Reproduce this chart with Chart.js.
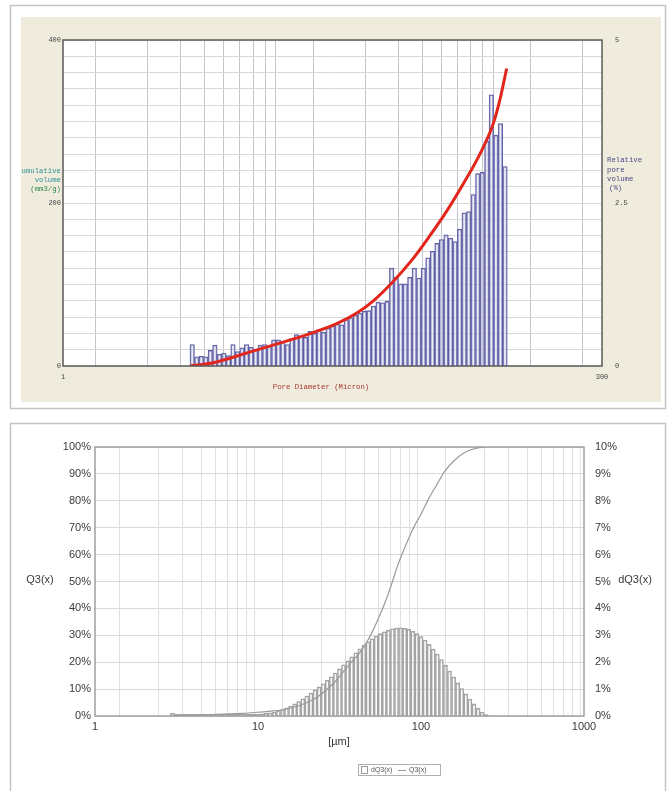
<!DOCTYPE html>
<html><head><meta charset="utf-8">
<script src="https://cdn.jsdelivr.net/npm/chart.js@4.4.1/dist/chart.umd.min.js"></script>
<style>
html,body{margin:0;padding:0;background:#fff;width:671px;height:791px;overflow:hidden}
#c1{position:absolute;left:0;top:0}
#c2{position:absolute;left:0;top:411px}
</style></head><body>
<canvas id="c1" width="671" height="411"></canvas>
<canvas id="c2" width="671" height="380"></canvas>
<script>
// ---------- TOP CHART DATA (mercury intrusion) ----------
const topDiameters = [3.925,4.118,4.320,4.532,4.754,4.988,5.233,5.489,5.759,6.042,6.339,6.650,6.977,7.319,7.679,8.056,8.452,8.867,9.302,9.763,10.24,10.75,11.27,11.83,12.41,13.02,13.66,14.33,15.03,15.77,16.55,17.36,18.21,19.11,20.05,21.03,22.07,23.15,24.29,25.48,26.73,28.05,29.43,30.87,32.39,33.98,35.65,37.40,39.24,41.17,43.19,45.32,47.54,49.88,52.33,54.90,57.59,60.42,63.39,66.50,69.77,73.19,76.79,80.56,84.52,88.67,93.02,97.63,102.4,107.5];
const relPoreVolume = [0.33,0.14,0.15,0.14,0.24,0.32,0.18,0.20,0.16,0.33,
  0.22,0.28,0.33,0.29,0.26,0.32,0.33,0.30,0.40,0.40,
  0.38,0.33,0.42,0.48,0.45,0.44,0.53,0.50,0.56,0.52,
  0.58,0.61,0.64,0.63,0.71,0.74,0.78,0.81,0.84,0.85,
  0.92,0.98,0.97,0.99,1.50,1.36,1.26,1.26,1.36,1.50,
  1.35,1.50,1.66,1.76,1.88,1.94,2.01,1.96,1.91,2.10,
  2.35,2.37,2.63,2.95,2.97,3.45,4.16,3.54,3.72,3.06];
const cumDiameters = [3.83,4.9,7.0,9.9,14.1,18.1,22.4,26.7,33.0,40.7,48.0,58.0,70.0,82.4,95.1,102.1,109.4];
const cumVolume = [0,4,16,28,41,52,65,80,104,132,158,190,226,260,298,328,365];
const topXTicks = [1,2,3,4,5,6,7,8,9,10,20,30,40,50,60,70,80,90,100,200,300];
const topXLabels = [1,300];
const topYLabels = [0,200,400];
const topY2Labels = [0,2.5,5];

// ---------- BOTTOM CHART DATA (particle size distribution) ----------
const psdSizes = [2.985,3.162,3.350,3.548,3.758,3.981,4.217,4.467,4.732,5.012,5.309,5.623,5.957,6.310,6.683,7.079,7.499,7.943,8.414,8.913,9.441,10.00,10.59,11.22,11.89,12.59,13.34,14.13,14.96,15.85,16.79,17.78,18.84,19.95,21.13,22.39,23.71,25.12,26.61,28.18,29.85,31.62,33.50,35.48,37.58,39.81,42.17,44.67,47.32,50.12,53.09,56.23,59.57,63.10,66.83,70.79,74.99,79.43,84.14,89.13,94.41,100.0,105.9,112.2,118.9,125.9,133.4,141.3,149.6,158.5,167.9,177.8,188.4,199.5,211.3,223.9,237.1,251.2];
const dQ3 = [0.10,0.06,0.06,0.06,0.06,0.06,0.06,0.06,0.06,0.06,0.06,0.06,0.06,0.06,0.06,0.06,0.06,0.06,0.06,0.06,0.07,0.07,
  0.08,0.10,0.12,0.15,0.19,0.24,0.30,0.37,0.45,0.54,
  0.64,0.74,0.85,0.97,1.08,1.20,1.33,1.46,1.60,1.75,
  1.90,2.05,2.20,2.35,2.50,2.63,2.76,2.87,2.97,3.06,
  3.13,3.19,3.24,3.27,3.28,3.26,3.22,3.15,3.06,2.95,
  2.82,2.66,2.49,2.30,2.10,1.89,1.67,1.45,1.23,1.02,
  0.82,0.63,0.45,0.29,0.15,0.05];
const q3Sizes = [3,5,8,10,12,15,18,20,23,26,30,34,38,42,46,50,55,60,66,72,80,90,100,112,125,140,160,190,220,250];
const q3Values = [0.1,0.5,1.0,1.4,1.8,2.6,3.9,5,7,9.5,13,17,20.5,23.5,27,31,36.5,42,49,56,63,70,75,81,86,91,95,98.3,99.6,100];
const botXTicks = [1,2,3,4,5,6,7,8,9,10,20,30,40,50,60,70,80,90,100,200,300,400,500,600,700,800,900,1000];
const botXLabels = [1,10,100,1000];

// ---------- TOP CHART ----------
const topFrame = {
  id:'topFrame',
  beforeDraw(chart){
    const c = chart.ctx, a = chart.chartArea;
    c.save();
    c.fillStyle='#fff'; c.fillRect(0,0,chart.width,chart.height);
    c.strokeStyle='#c4c4c4'; c.lineWidth=1.5; c.strokeRect(10.5,5.5,655,403);
    c.fillStyle='#efebdd'; c.fillRect(21,17,640,385);
    c.fillStyle='#fff'; c.fillRect(a.left,a.top,a.right-a.left,a.bottom-a.top);
    c.restore();
  },
  afterDraw(chart){
    const c = chart.ctx, a = chart.chartArea;
    c.save();
    c.strokeStyle='#5a5a5a'; c.lineWidth=1.5;
    c.strokeRect(a.left,a.top,a.right-a.left,a.bottom-a.top);
    c.font='7.3px "Liberation Mono"';
    c.textBaseline='middle';
    c.save(); c.beginPath(); c.rect(22,0,700,411); c.clip();
    c.textAlign='right';
    c.fillStyle='#2f9191'; c.fillText('Cumulative',61,171); c.fillText('volume',61,180);
    c.fillStyle='#2e8a4e'; c.fillText('(mm3/g)',61,189);
    c.restore();
    c.textAlign='left'; c.fillStyle='#4a4a82';
    c.fillText('Relative',607,160); c.fillText('pore',607,170); c.fillText('volume',607,179); c.fillText('(%)',609,188);
    c.textAlign='center'; c.fillStyle='#a8392f';
    c.fillText('Pore Diameter (Micron)',321,387);
    c.restore();
  }
};

const monoTick = {family:'Liberation Mono', size:7};
new Chart(document.getElementById('c1'), {
  type:'bar',
  data:{datasets:[
    {type:'line', label:'Cumulative volume', data:cumDiameters.map((d,i)=>({x:d,y:cumVolume[i]})), yAxisID:'y',
     borderColor:'#e2261b', borderWidth:3, pointRadius:0, cubicInterpolationMode:'monotone', order:0},
    {type:'bar', label:'Relative pore volume', data:topDiameters.map((d,i)=>({x:d,y:relPoreVolume[i]})), yAxisID:'y2',
     backgroundColor:'rgba(215,215,240,0.45)', borderColor:'#5c5ca2', borderWidth:1, barPercentage:1, categoryPercentage:1, order:1}
  ]},
  options:{
    responsive:false, animation:false,
    layout:{padding:{left:13,right:19,top:40,bottom:14}},
    plugins:{legend:{display:false}, tooltip:{enabled:false}},
    scales:{
      x:{type:'logarithmic', min:1, max:300,
        afterBuildTicks:s=>{s.ticks = topXTicks.map(v=>({value:v}));},
        afterFit:s=>{s.height=31;},
        ticks:{autoSkip:false, maxRotation:0, padding:7, font:monoTick, color:'#444', callback:v=>topXLabels.includes(v)?String(v):''},
        grid:{color:'#c4c4cc', drawTicks:false}, border:{display:false}},
      y:{position:'left', min:0, max:400, afterFit:s=>{s.width=50;},
        ticks:{stepSize:20, autoSkip:false, padding:2, font:monoTick, color:'#444', callback:v=>topYLabels.includes(v)?String(v):''},
        grid:{color:'#d8d8d8', drawTicks:false}, border:{display:false}},
      y2:{position:'right', min:0, max:5, afterFit:s=>{s.width=50;},
        ticks:{stepSize:2.5, autoSkip:false, padding:5, font:monoTick, color:'#444', callback:v=>topY2Labels.includes(v)?String(v):''},
        grid:{display:false}, border:{display:false}}
    }
  },
  plugins:[topFrame]
});

// ---------- BOTTOM CHART ----------
const botFrame = {
  id:'botFrame',
  beforeDraw(chart){
    const c = chart.ctx;
    c.save();
    c.fillStyle='#fff'; c.fillRect(0,0,chart.width,chart.height);
    c.strokeStyle='#c4c4c4'; c.lineWidth=1.5; c.strokeRect(10.5,12.5,655,400);
    c.restore();
  },
  afterDraw(chart){
    const c = chart.ctx, a = chart.chartArea;
    c.save();
    c.strokeStyle='#a0a0a0'; c.lineWidth=1.5;
    c.strokeRect(a.left,a.top,a.right-a.left,a.bottom-a.top);
    c.font='11px "Liberation Sans"'; c.fillStyle='#3a3a3a'; c.textBaseline='middle'; c.textAlign='center';
    c.fillText('Q3(x)',40,169);
    c.fillText('dQ3(x)',635,169);
    c.fillText('[µm]',339,331);
    // legend
    c.strokeStyle='#b0b0b0'; c.lineWidth=1; c.strokeRect(358.5,353.5,82,11);
    c.strokeStyle='#999'; c.strokeRect(361.5,355.5,6,7);
    c.font='7px "Liberation Sans"'; c.fillStyle='#555'; c.textAlign='left';
    c.fillText('dQ3(x)',371,359.5);
    c.beginPath(); c.moveTo(398,359.5); c.lineTo(406,359.5); c.stroke();
    c.fillText('Q3(x)',409,359.5);
    c.restore();
  }
};

const sansTick = {family:'Liberation Sans', size:11};
new Chart(document.getElementById('c2'), {
  type:'bar',
  data:{datasets:[
    {type:'line', label:'Q3(x)', data:q3Sizes.map((d,i)=>({x:d,y:q3Values[i]})), yAxisID:'y',
     borderColor:'#9a9a9a', borderWidth:1.2, pointRadius:0, cubicInterpolationMode:'monotone', order:0},
    {type:'bar', label:'dQ3(x)', data:psdSizes.map((d,i)=>({x:d,y:dQ3[i]})), yAxisID:'y2',
     backgroundColor:'rgba(255,255,255,0)', borderColor:'#a4a4a4', borderWidth:0.9, barPercentage:1, categoryPercentage:1, order:1}
  ]},
  options:{
    responsive:false, animation:false,
    layout:{padding:{left:45,right:37,top:36,bottom:45}},
    plugins:{legend:{display:false}, tooltip:{enabled:false}},
    scales:{
      x:{type:'logarithmic', min:1, max:1000,
        afterBuildTicks:s=>{s.ticks = botXTicks.map(v=>({value:v}));},
        afterFit:s=>{s.height=30;},
        ticks:{autoSkip:false, maxRotation:0, padding:4, font:sansTick, color:'#3a3a3a', callback:v=>botXLabels.includes(v)?String(v):''},
        grid:{color:'#e0e0e0', drawTicks:false}, border:{display:false}},
      y:{position:'left', min:0, max:100, afterFit:s=>{s.width=50;},
        ticks:{stepSize:10, autoSkip:false, padding:4, font:sansTick, color:'#3a3a3a', callback:v=>v+'%'},
        grid:{color:'#dadada', drawTicks:false}, border:{display:false}},
      y2:{position:'right', min:0, max:10, afterFit:s=>{s.width=50;},
        ticks:{stepSize:1, autoSkip:false, padding:3, font:sansTick, color:'#3a3a3a', callback:v=>v+'%'},
        grid:{display:false}, border:{display:false}}
    }
  },
  plugins:[botFrame]
});
</script>
</body></html>
